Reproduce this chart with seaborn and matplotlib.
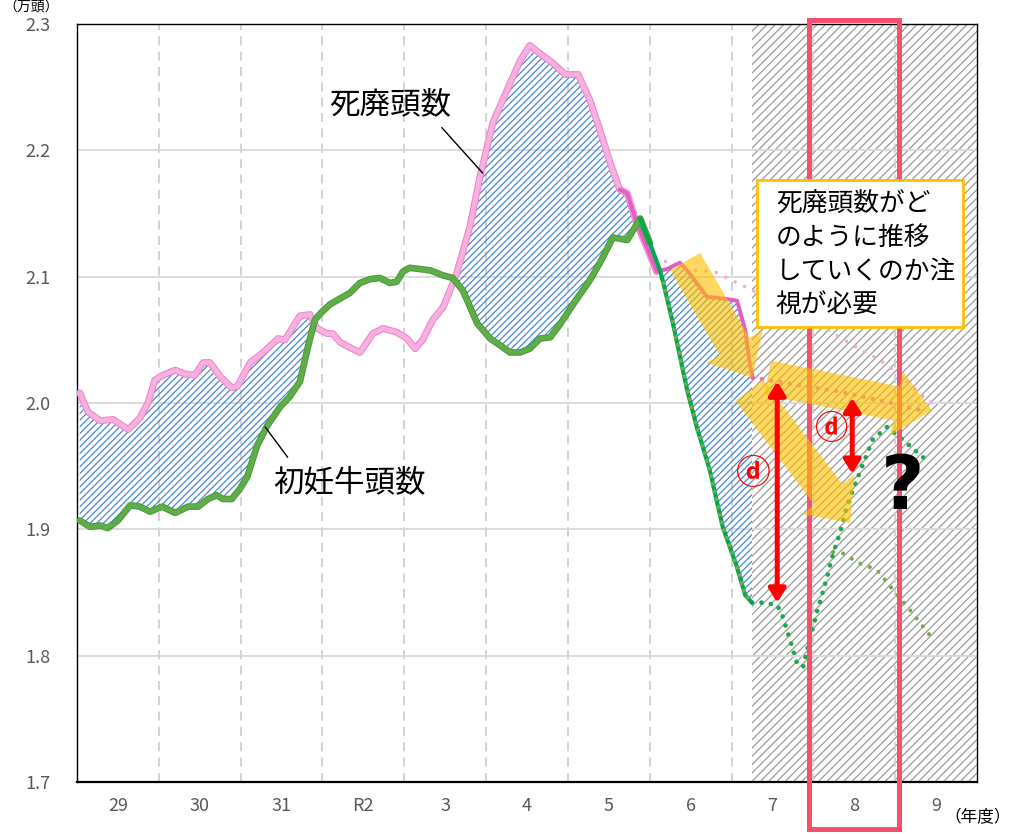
import numpy as np
import pandas as pd
import matplotlib
matplotlib.use('Agg')
import matplotlib.pyplot as plt
import matplotlib.patches as mpatches
import matplotlib.transforms as mtransforms
import matplotlib.patheffects as pe
import seaborn as sns

sns.set_theme(style="white")
plt.rcParams['font.family'] = ['Noto Sans CJK JP', 'DejaVu Sans']
plt.rcParams['hatch.linewidth'] = 0.9

# 年度ラベル (x軸は月数: 1年度=12か月)
years = ['29', '30', '31', 'R2', '3', '4', '5', '6', '7', '8', '9']

# 死廃頭数 (実績)
pink_x = [0.4, 1.6, 3.4, 5.3, 7.5, 9.2, 10.4, 11.4, 12.6, 14.4, 15.8, 17.3, 18.5, 19.5, 21.0, 22.7, 23.5,
          25.4, 27.3, 29.5, 30.5, 32.0, 32.7, 34.2, 35.2, 36.7, 37.5, 38.6, 40.0, 41.5, 43.4, 44.9, 46.9,
          48.4, 49.6, 50.7, 52.2, 53.7, 54.7, 55.7, 57.6, 59.1, 61.0, 63.1, 65.0, 66.4, 68.3, 69.8, 71.6,
          73.5, 75.2, 76.7, 78.2, 79.6, 80.7, 82.1, 83.6, 85.0, 86.5, 88.4, 89.5, 92.4, 94.3, 96.8, 98.0,
          98.7, 99.1]
pink_y = [2.008, 1.993, 1.986, 1.987, 1.979, 1.988, 2.000, 2.018, 2.022, 2.026, 2.023, 2.022, 2.032, 2.032,
          2.021, 2.012, 2.013, 2.032, 2.040, 2.051, 2.050, 2.063, 2.069, 2.070, 2.059, 2.055, 2.055, 2.048,
          2.044, 2.040, 2.055, 2.059, 2.056, 2.051, 2.043, 2.050, 2.066, 2.076, 2.089, 2.103, 2.139, 2.179,
          2.222, 2.248, 2.271, 2.283, 2.275, 2.269, 2.260, 2.260, 2.240, 2.216, 2.190, 2.169, 2.166, 2.142,
          2.123, 2.104, 2.106, 2.111, 2.105, 2.084, 2.083, 2.081, 2.058, 2.030, 2.020]

# 初妊牛頭数 (実績)
green_x = [0.4, 1.9, 3.4, 4.5, 6.0, 7.8, 9.2, 10.7, 12.5, 14.4, 16.3, 17.8, 19.2, 20.5, 21.4, 22.7, 23.9,
           25.0, 26.4, 27.9, 29.8, 31.2, 32.7, 33.9, 34.9, 35.9, 37.1, 39.0, 40.0, 41.5, 43.0, 44.4, 45.9,
           46.9, 47.8, 48.8, 51.8, 53.7, 55.1, 56.6, 58.7, 60.6, 62.5, 63.5, 65.0, 66.4, 67.9, 69.4, 70.8,
           73.0, 75.2, 76.7, 78.6, 80.7, 82.6, 84.0, 85.5, 86.0, 87.4, 89.5, 90.9, 92.8, 94.7, 96.8, 98.0,
           99.0]
green_y = [1.907, 1.902, 1.903, 1.901, 1.907, 1.919, 1.918, 1.914, 1.918, 1.913, 1.918, 1.918, 1.924, 1.927,
           1.924, 1.924, 1.932, 1.942, 1.966, 1.982, 1.997, 2.005, 2.017, 2.045, 2.066, 2.072, 2.078, 2.084,
           2.087, 2.095, 2.098, 2.099, 2.095, 2.096, 2.104, 2.107, 2.105, 2.101, 2.099, 2.089, 2.063, 2.051,
           2.044, 2.040, 2.040, 2.043, 2.051, 2.052, 2.062, 2.080, 2.097, 2.111, 2.131, 2.129, 2.146, 2.127,
           2.105, 2.095, 2.063, 2.010, 1.981, 1.947, 1.902, 1.870, 1.848, 1.842]

# 見通し (点線)
pink_fc1_x = [86.3, 90.3, 93.5, 96.8, 99.1, 104.5, 110.0, 114.4, 117.8, 120.7, 124.7, 125.8]
pink_fc1_y = [2.112, 2.105, 2.104, 2.095, 2.089, 2.074, 2.058, 2.044, 2.034, 2.022, 2.002, 2.000]
pink_fc2_x = [99.1, 102.6, 111.9, 119.3, 124.7]
pink_fc2_y = [2.020, 2.017, 2.009, 2.000, 1.993]
green_fc1_x = [99.0, 100.6, 102.7, 103.5, 104.6, 105.6, 106.5, 107.2, 108.5, 110.0, 110.9, 111.9, 112.9,
               114.8, 116.7, 118.8, 121.1, 124.1, 124.7]
green_fc1_y = [1.842, 1.842, 1.840, 1.831, 1.812, 1.794, 1.791, 1.807, 1.834, 1.862, 1.881, 1.897, 1.918,
               1.945, 1.971, 1.981, 1.971, 1.957, 1.953]
green_fc2_x = [110.9, 112.3, 114.8, 117.3, 119.7, 122.2, 125.1]
green_fc2_y = [1.882, 1.881, 1.873, 1.868, 1.852, 1.836, 1.816]

forecast_start = 99
x_max = 12 * len(years)

fig = plt.figure(figsize=(10.13, 8.34), dpi=100)
ax = fig.add_axes([77 / 1013, 52 / 834, 900 / 1013, 758 / 834])
ax.set_xlim(0, x_max)
ax.set_ylim(1.7, 2.3)

# 見通し期間の網掛け
ax.axvspan(forecast_start, x_max, facecolor='white', edgecolor='#9A9A9A', hatch='////', lw=0, zorder=0.3)

# 死廃 > 初妊 の部分を青斜線
grid = np.linspace(max(pink_x[0], green_x[0]), min(pink_x[-1], green_x[-1]), 1200)
p = np.interp(grid, pink_x, pink_y)
g = np.interp(grid, green_x, green_y)
ax.fill_between(grid, g, p, where=p > g, interpolate=True, facecolor='none',
                edgecolor='#4589D6', hatch='/////', lw=0, zorder=1)

px = np.array(pink_x)
py = np.array(pink_y)
gx = np.array(green_x)
gy = np.array(green_y)

# 実績線
m = px <= 85.0
sns.lineplot(x=px[m], y=py[m], color='#F8B0E0', lw=3.4, sort=False, ax=ax, zorder=3,
             path_effects=[pe.Stroke(linewidth=5.0, foreground='#EE88CC'), pe.Normal()])
m = px >= 79.6
sns.lineplot(x=px[m], y=py[m], color='#E45CC4', lw=2.8, sort=False, ax=ax, zorder=3.1)

m = gx <= 84.0
sns.lineplot(x=gx[m], y=gy[m], color='#5EAD48', lw=3.4, sort=False, ax=ax, zorder=3.2,
             path_effects=[pe.Stroke(linewidth=4.8, foreground='#4B9A3A'), pe.Normal()])
m = gx >= 82.6
sns.lineplot(x=gx[m], y=gy[m], color='#00A84E', lw=3.0, sort=False, ax=ax, zorder=3.3)
m = gx >= 86.0
sns.lineplot(x=gx[m], y=gy[m], color='#74A848', lw=3.0, sort=False, ax=ax, zorder=3.4,
             linestyle=(0, (0.01, 1.9)), dash_capstyle='round')

# 見通し線
sns.lineplot(x=pink_fc1_x, y=pink_fc1_y, color='#F4A8DC', lw=2.6, sort=False, ax=ax, zorder=2.5,
             linestyle=(0, (0.01, 2.9)), dash_capstyle='round')
sns.lineplot(x=pink_fc2_x, y=pink_fc2_y, color='#EA6FC9', lw=3.2, sort=False, ax=ax, zorder=2.6,
             linestyle=(0, (0.01, 2.1)), dash_capstyle='round')
sns.lineplot(x=green_fc1_x, y=green_fc1_y, color='#1EAA4A', lw=3.4, sort=False, ax=ax, zorder=2.7,
             linestyle=(0, (0.01, 2.0)), dash_capstyle='round')
sns.lineplot(x=green_fc2_x, y=green_fc2_y, color='#76AC4A', lw=3.0, sort=False, ax=ax, zorder=2.6,
             linestyle=(0, (0.01, 2.4)), dash_capstyle='round')

# グリッド
ax.set_axisbelow(True)
ax.set_yticks(np.round(np.arange(1.7, 2.31, 0.1), 1))
ax.set_yticklabels(['%.1f' % v for v in np.arange(1.7, 2.31, 0.1)])
ax.set_xticks([12 * i + 6 for i in range(len(years))])
ax.set_xticklabels(years)
ax.set_xticks([12 * i for i in range(1, len(years))], minor=True)
ax.grid(which='major', axis='y', color='#D9D9D9', lw=1.3, ls='-')
ax.grid(which='minor', axis='x', color='#D0D0D0', lw=1.3, ls=(0, (5, 3.5)))
ax.grid(which='major', axis='x', visible=False)
ax.tick_params(axis='both', which='both', length=0)
ax.tick_params(axis='y', pad=19, labelsize=13, labelcolor='#595959')
ax.tick_params(axis='x', pad=11, labelsize=13, labelcolor='#595959')
ax.set_xlabel('')
ax.set_ylabel('')
for s in ax.spines.values():
    s.set_color('black')
    s.set_linewidth(1.0)
ax.spines['bottom'].set_linewidth(1.6)

# 注目年度の赤枠
trans = mtransforms.blended_transform_factory(ax.transData, fig.transFigure)
ax.add_patch(mpatches.Rectangle((107.4, 1 - 829 / 834), 13.2, (829 - 20) / 834, transform=trans,
                                fill=False, edgecolor='#F5506E', lw=3.6, clip_on=False, zorder=3.5))

# オレンジ矢印
arrow_style = mpatches.ArrowStyle.Simple(head_length=26, head_width=47, tail_width=25)
for (x0, y0), (x1, y1) in [((89.2, 2.112), (99.1, 2.020)),
                           ((101.3, 2.020), (125.4, 1.994)),
                           ((98.6, 2.010), (113.4, 1.905))]:
    ax.add_patch(mpatches.FancyArrowPatch((x0, y0), (x1, y1), arrowstyle=arrow_style, mutation_scale=1,
                                          facecolor='#FFC000', edgecolor='none', alpha=0.62,
                                          shrinkA=0, shrinkB=0, zorder=4))

# 差 ⓓ
for xx, top, bot in [(102.7, 2.017, 1.842), (113.7, 2.004, 1.944)]:
    ax.annotate('', xy=(xx, top), xytext=(xx, bot),
                arrowprops=dict(arrowstyle='<|-|>,head_length=0.4,head_width=0.25', color='#FF0000',
                                lw=3.6, mutation_scale=20, shrinkA=0, shrinkB=0), zorder=5)
ax.text(99.0, 1.944, 'ⓓ', color='#FF0000', fontsize=25, fontweight='bold', ha='center', va='center', zorder=5)
ax.text(110.6, 1.979, 'ⓓ', color='#FF0000', fontsize=24, fontweight='bold', ha='center', va='center', zorder=5)
ax.text(121.1, 1.932, '?', color='black', fontsize=54, fontweight='heavy', family='DejaVu Sans',
        ha='center', va='center', zorder=5)

# 系列ラベル
ax.text(45.9, 2.236, '死廃頭数', fontsize=22, ha='center', va='center', color='black', zorder=6)
ax.plot([53.5, 59.5], [2.218, 2.182], color='black', lw=1.0, zorder=6)
ax.text(40.0, 1.937, '初妊牛頭数', fontsize=22, ha='center', va='center', color='black', zorder=6)
ax.plot([27.6, 30.9], [1.981, 1.957], color='black', lw=1.0, zorder=6)

# 吹き出し
ax.add_patch(mpatches.Rectangle((99.7, 2.060), 30.25, 0.1165, facecolor='white', edgecolor='#FFC000',
                                lw=2.0, zorder=6))
ax.text(102.5, 2.117, '死廃頭数がど\nのように推移\nしていくのか注\n視が必要', fontsize=18.5,
        ha='left', va='center', linespacing=1.38, color='black', zorder=7)

fig.text(978 / 1013, 1 - 818 / 834, '（年度）', fontsize=12, ha='center', va='center', color='black')
fig.text(0.003, 0.999, '（万頭）', fontsize=10, ha='left', va='top', color='black')

fig.savefig('out.png', dpi=100)
